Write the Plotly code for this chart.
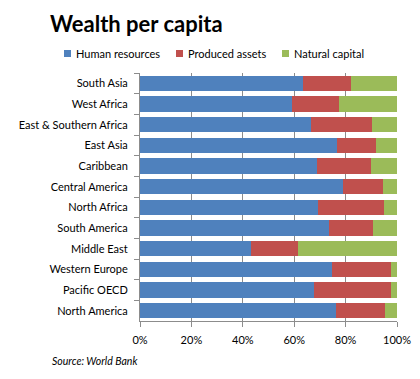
import plotly.graph_objects as go

regions = ["South Asia", "West Africa", "East & Southern Africa", "East Asia", "Caribbean",
           "Central America", "North Africa", "South America", "Middle East",
           "Western Europe", "Pacific OECD", "North America"]
human = [63.6, 59.1, 66.7, 76.6, 68.8, 78.9, 69.2, 73.7, 43.2, 74.6, 67.6, 76.2]
produced = [18.4, 18.2, 23.4, 15.1, 20.9, 15.5, 25.6, 16.8, 18.2, 22.9, 29.9, 19.0]
natural = [18.0, 22.7, 9.9, 8.3, 10.3, 5.6, 5.2, 9.5, 38.6, 2.5, 2.5, 4.8]
series_names = ["Human resources", "Produced assets", "Natural capital"]
series_colors = ["#4F81BD", "#C0504D", "#9BBB59"]
tick_vals = [0, 20, 40, 60, 80, 100]
tick_text = ["0%", "20%", "40%", "60%", "80%", "100%"]

FONT = "Lato, Open Sans, DejaVu Sans, sans-serif"
W, H = 420, 379
PL, PR, PT, PB = 140, W - 23, 73, H - 58
PW, PH = PR - PL, PB - PT


def px2paper(x, y):
    return (x - PL) / PW, (PB - y) / PH


fig = go.Figure()
for name, vals, col in zip(series_names, [human, produced, natural], series_colors):
    fig.add_trace(go.Bar(y=regions, x=vals, name=name, orientation="h",
                         marker=dict(color=col, line=dict(width=0))))

# legend: small squares + labels
legend_x = [64, 176, 282]
anns = []
shps = []
for lx, name, col in zip(legend_x, series_names, series_colors):
    x0, y0 = px2paper(lx, 57)
    x1, y1 = px2paper(lx + 7, 50)
    shps.append(dict(type="rect", xref="paper", yref="paper", x0=x0, x1=x1, y0=y0, y1=y1,
                     fillcolor=col, line=dict(width=0)))
    tx, ty = px2paper(lx + 10, 53.5)
    anns.append(dict(text=name, xref="paper", yref="paper", x=tx, y=ty,
                     xanchor="left", yanchor="middle", showarrow=False,
                     font=dict(size=11, color="#000")))
sx, sy = px2paper(50, 361)
anns.append(dict(text="<i>Source: World Bank</i>", xref="paper", yref="paper",
                 x=sx, xanchor="left", y=sy, yanchor="middle",
                 showarrow=False, font=dict(size=10.5, color="#000")))

fig.update_layout(
    barmode="stack", bargap=0.27,
    width=W, height=H,
    paper_bgcolor="white", plot_bgcolor="white",
    margin=dict(l=PL, r=W - PR, t=PT, b=H - PB, autoexpand=False),
    font=dict(family=FONT, size=11, color="#000000"),
    title=dict(text="<b>Wealth per capita</b>", x=50 / W, xanchor="left", xref="container",
               y=1 - 24 / H, yanchor="middle", yref="container",
               font=dict(size=22, family=FONT, color="#000")),
    showlegend=False,
    shapes=shps, annotations=anns,
)
fig.update_xaxes(range=[0, 100], tickvals=tick_vals, ticktext=tick_text,
                 showgrid=True, gridcolor="#8C8C8C", gridwidth=1,
                 showline=True, linecolor="#8C8C8C", linewidth=1,
                 ticks="outside", ticklen=5, tickcolor="#8C8C8C", ticklabelstandoff=4,
                 tickfont=dict(size=11), zeroline=False, fixedrange=True, automargin=False)
fig.update_yaxes(categoryorder="array", categoryarray=regions, autorange="reversed",
                 showline=True, linecolor="#8C8C8C", linewidth=1,
                 ticks="outside", ticklen=5, tickcolor="#8C8C8C", tickson="boundaries",
                 ticklabelstandoff=9,
                 tickfont=dict(size=11), showgrid=False, fixedrange=True, automargin=False)

fig.write_html("out.html", config={"displayModeBar": False},
               post_script="document.body.style.margin='0';")
